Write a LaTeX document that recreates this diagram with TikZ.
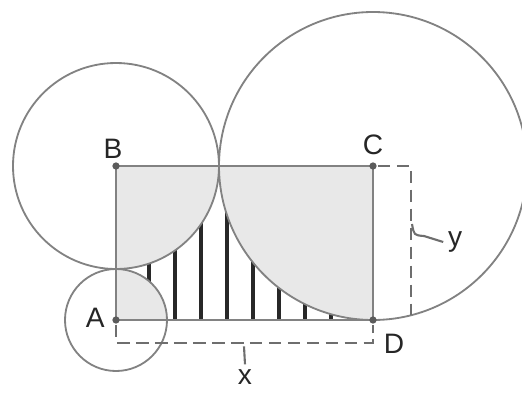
\documentclass[tikz,border=0pt]{standalone}
\usepackage{fontspec}
\setmainfont{Liberation Sans}
\usepackage{tikz}
\usetikzlibrary{calc}
\usetikzlibrary{positioning}
\definecolor{linegray}{RGB}{130,130,130}
\definecolor{fillgray}{RGB}{232,232,232}
\definecolor{hatchgray}{RGB}{40,40,40}

\begin{document}
\begin{tikzpicture}[
        figline/.style={linegray, line width=1.3pt},
        dimline/.style={linegray!85!black, line width=1.8pt, dash pattern=on 9pt off 4.5pt},
        hatchline/.style={hatchgray, line width=2.3pt},
        pointdot/.style={fill=linegray!70!black},
        lbl/.style={font=\fontsize{20}{24}\selectfont, text=black!85}
    ]
            % Frame to ensure alignment:
            \useasboundingbox                                                  (-2.90,-1.80) rectangle (10.15, 8.00);
            % Corner points
            \coordinate (A) at (0.000, 0.00);
            \coordinate (B) at (0.000, 3.85);
            \coordinate (C) at (6.425, 3.85);
            \coordinate (D) at (6.425, 0.00);
            % Region outside the circles
            \fill[white]                                                       (A) rectangle (C);
            \foreach \x in {0.825,1.475,...,5.4}
                \draw[hatchline]                                               (\x, 0.00) -- (\x, 3.85);
            % Circle parts inside the rectangle
            \begin{scope}
                \clip                                                          (A) rectangle (C);
                \fill[fillgray]                                                (A) circle (1.275);
                \fill[fillgray]                                                (B) circle (2.575);
                \fill[fillgray]                                                (C) circle (3.850);
            \end{scope}
            % Circles & rectangle
            \draw[figline]                                                     (A) circle (1.275);
            \draw[figline]                                                     (B) circle (2.575);
            \draw[figline]                                                     (C) circle (3.850);
            \draw[figline]                                                     (A) -- (B) -- (C) -- (D) -- cycle;
            % Dimension x
            \draw[dimline]                                                     ($(A)+(0,-0.12)$) -- (0.000,-0.57) -- (6.425,-0.57) -- ($(D)+(0,-0.12)$);
            \node[lbl] (labX) at (3.225,-1.42) {x};
            \draw[linegray!85!black, line width=1.5pt]                         (3.200,-0.66) -- (labX.north);
            % Dimension y
            \draw[dimline]                                                     ($(C)+(0.12,0)$) -- (7.375, 3.85) -- (7.375, 0.12);
            \node[lbl] (labY) at (8.480, 1.95) {y};
            \draw[linegray!85!black, line width=1.5pt]                         (7.400, 2.40) .. controls (7.45, 2.12) .. (7.70, 2.10) -- (labY.west);
            % Points & labels
            \foreach \p in {A,B,C,D}
                \filldraw[pointdot, draw=none]                                 (\p) circle (2.6pt);
            \node[lbl] (labA) at (-0.520, 0.05) {A};
            \node[lbl] (labB) at (-0.075, 4.28) {B};
            \node[lbl] (labC) at ( 6.425, 4.38) {C};
            \node[lbl] (labD) at ( 6.950,-0.60) {D};
\end{tikzpicture}
\end{document}
